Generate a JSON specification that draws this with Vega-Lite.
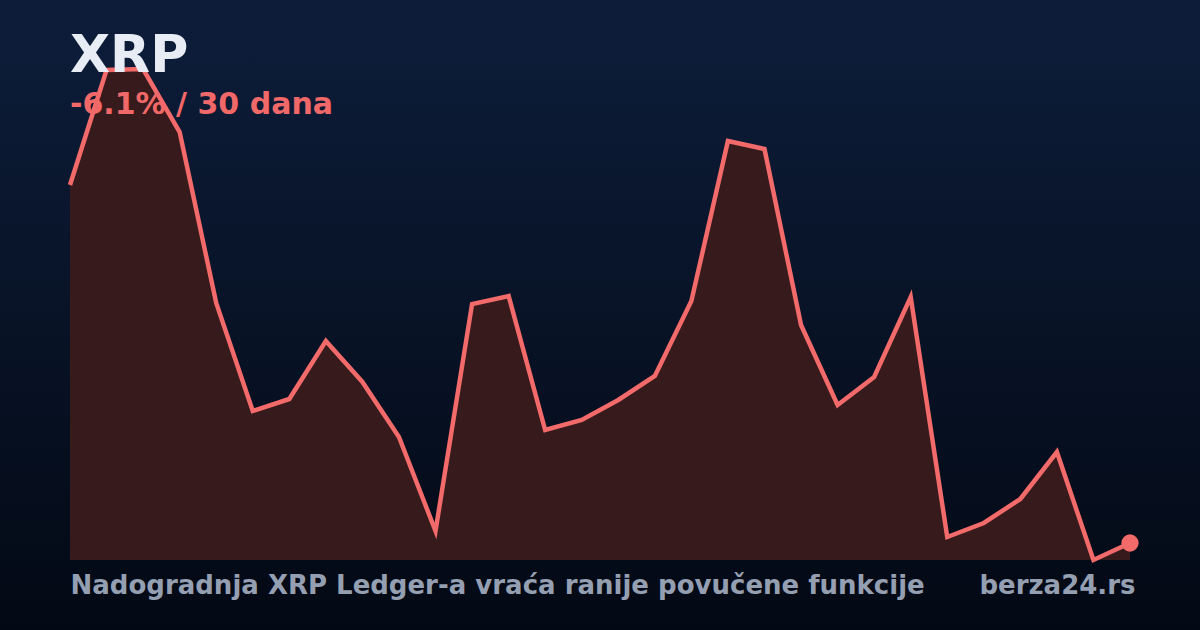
{
  "$schema": "https://vega.github.io/schema/vega-lite/v6.json",
  "width": 1200,
  "height": 630,
  "autosize": "none",
  "padding": 0,
  "background": "#07101f",
  "config": {
    "view": {
      "stroke": null,
      "fill": {
        "gradient": "linear",
        "x1": 0, "y1": 0, "x2": 0, "y2": 1,
        "stops": [
          {"offset": 0, "color": "#0d1d3a"},
          {"offset": 1, "color": "#030914"}
        ]
      }
    },
    "font": "DejaVu Sans"
  },
  "title": {
    "text": "XRP",
    "subtitle": "-6.1% / 30 dana",
    "anchor": "start",
    "frame": "group",
    "dx": 70,
    "offset": -121,
    "font": "DejaVu Sans",
    "fontSize": 52,
    "fontWeight": "bold",
    "color": "#e8ecf4",
    "subtitleFont": "DejaVu Sans",
    "subtitleFontSize": 30,
    "subtitleFontWeight": "bold",
    "subtitleColor": "#f06868",
    "subtitlePadding": 7
  },
  "data": {
    "values": [
      {"day": 1, "value": 375},
      {"day": 2, "value": 490},
      {"day": 3, "value": 491},
      {"day": 4, "value": 428},
      {"day": 5, "value": 257},
      {"day": 6, "value": 149},
      {"day": 7, "value": 161},
      {"day": 8, "value": 219},
      {"day": 9, "value": 178},
      {"day": 10, "value": 123},
      {"day": 11, "value": 29},
      {"day": 12, "value": 256},
      {"day": 13, "value": 264},
      {"day": 14, "value": 130},
      {"day": 15, "value": 140},
      {"day": 16, "value": 160},
      {"day": 17, "value": 184},
      {"day": 18, "value": 259},
      {"day": 19, "value": 419},
      {"day": 20, "value": 411},
      {"day": 21, "value": 235},
      {"day": 22, "value": 155},
      {"day": 23, "value": 183},
      {"day": 24, "value": 263},
      {"day": 25, "value": 23},
      {"day": 26, "value": 37},
      {"day": 27, "value": 61},
      {"day": 28, "value": 108},
      {"day": 29, "value": 0},
      {"day": 30, "value": 17}
    ]
  },
  "encoding": {
    "x": {
      "field": "day",
      "type": "quantitative",
      "scale": {"domain": [1, 30], "range": [70, 1130]},
      "axis": {
        "title": "Nadogradnja XRP Ledger-a vraća ranije povučene funkcije",
        "labels": false, "ticks": false, "domain": false, "grid": false,
        "titleX": 70, "titleY": -37,
        "titleAlign": "left", "titleBaseline": "alphabetic",
        "titleFont": "DejaVu Sans", "titleFontSize": 26, "titleFontWeight": "bold",
        "titleColor": "#959fb2"
      }
    },
    "y": {
      "field": "value",
      "type": "quantitative",
      "scale": {"domain": [0, 490], "range": [560, 70]},
      "axis": {
        "orient": "right",
        "title": "berza24.rs",
        "labels": false, "ticks": false, "domain": false, "grid": false,
        "titleAngle": 0, "titleX": -65, "titleY": 593,
        "titleAlign": "right", "titleBaseline": "alphabetic",
        "titleFont": "DejaVu Sans", "titleFontSize": 26, "titleFontWeight": "bold",
        "titleColor": "#959fb2"
      }
    }
  },
  "layer": [
    {"mark": {"type": "area", "color": "#361a1c"}},
    {"mark": {"type": "line", "color": "#f26a6a", "strokeWidth": 4.5}},
    {
      "transform": [{"filter": "datum.day == 30"}],
      "mark": {"type": "point", "filled": true, "opacity": 1, "size": 300, "color": "#f26a6a"}
    }
  ]
}
